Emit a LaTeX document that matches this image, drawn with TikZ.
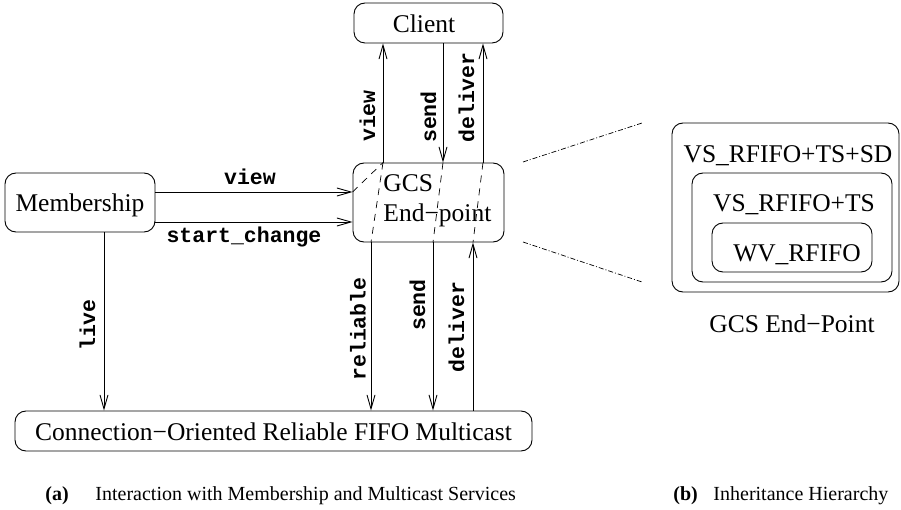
\documentclass[tikz,border=0pt]{standalone}
\usepackage{fontspec}
\setmainfont{Liberation Serif}
\setmonofont{Liberation Mono}
\usetikzlibrary{arrows.meta}
\begin{document}
\begin{tikzpicture}[x=1pt,y=-1pt, line width=0.9pt,
 box/.style={draw, rounded corners=11pt, inner sep=0pt},
 lbl/.style={font=\fontsize{21.5}{24}\selectfont\ttfamily\bfseries, inner sep=0pt},
 vlbl/.style={lbl, rotate=90},
 txt/.style={font=\fontsize{25.5}{28}\selectfont, inner sep=0pt, anchor=base},
 captxt/.style={font=\fontsize{20}{24}\selectfont, inner sep=0pt, anchor=base west},
 capbold/.style={captxt, font=\fontsize{20}{24}\selectfont\bfseries},
 arr/.style={-{Straight Barb[length=14pt,width=8pt]}},
 dsh/.style={dash pattern=on 7pt off 6pt, line width=0.7pt},
 dd/.style={dash pattern=on 5pt off 2pt on 1pt off 2pt, line width=0.7pt}]
\useasboundingbox (0,0) rectangle (901,510);

% boxes
\node[box, minimum width=149pt, minimum height=40pt] (client) at (428.5,23) {};
\node[box, minimum width=151pt, minimum height=79pt] (gcs) at (428.5,202.5) {};
\node[box, minimum width=150pt, minimum height=59pt] (mem) at (80,202.5) {};
\node[box, minimum width=517pt, minimum height=40pt] (mc) at (273.5,431) {};
\node[box, minimum width=227pt, minimum height=169pt] (outer) at (785.5,207.5) {};
\node[box, minimum width=200pt, minimum height=109pt] (middle) at (792,227.5) {};
\node[box, minimum width=160pt, minimum height=49pt] (inner) at (792,247.5) {};

% box texts
\node[txt] (tclient) at (424,33) {Client};
\node[txt, anchor=base west] (tgcs1) at (383,192) {GCS};
\node[txt, anchor=base west] (tgcs2) at (383,222) {End−point};
\node[txt] (tmem) at (80,212) {Membership};
\node[txt] (tmc) at (273.5,440) {Connection−Oriented Reliable FIFO Multicast};
\node[txt] (touter) at (788,163) {VS\_RFIFO+TS+SD};
\node[txt] (tmiddle) at (794,212) {VS\_RFIFO+TS};
\node[txt] (tinner) at (797,262) {WV\_RFIFO};
\node[txt] (tep) at (792,332) {GCS End−Point};

% x positions of vertical connectors
\coordinate (xv) at (383,0);
\coordinate (xs) at (443,0);
\coordinate (xd) at (483,0);
\coordinate (xr) at (371,0);
\coordinate (xs2) at (433,0);
\coordinate (xd2) at (473,0);
\coordinate (xl) at (104,0);
\coordinate (yv) at (0,192);
\coordinate (yc) at (0,222);

% connectors
\draw[arr] (gcs.north -| xv) -- (client.south -| xv);
\draw[arr] (client.south -| xs) -- (gcs.north -| xs);
\draw[arr] (gcs.north -| xd) -- (client.south -| xd);
\draw[arr] (mem.east |- yv) -- (gcs.west |- yv);
\draw[arr] (mem.east |- yc) -- (gcs.west |- yc);
\draw[arr] (mem.south -| xl) -- (mc.north -| xl);
\draw[arr] (gcs.south -| xr) -- (mc.north -| xr);
\draw[arr] (gcs.south -| xs2) -- (mc.north -| xs2);
\draw[arr] (mc.north -| xd2) -- (gcs.south -| xd2);

% dashed paths inside the end-point
\draw[dsh] (gcs.west |- yv) -- (gcs.north -| xv);
\draw[dsh] (gcs.north -| xv) -- (gcs.south -| xr);
\draw[dsh] (gcs.north -| xs) -- (gcs.south -| xs2);
\draw[dsh] (gcs.north -| xd) -- (gcs.south -| xd2);

% labels
\node[lbl] (lview) at (250,177) {view};
\node[lbl] (lsc) at (244,237) {start\_change};
\node[vlbl] (ltv) at (367.5,116) {view};
\node[vlbl] (lts) at (428.5,117) {send};
\node[vlbl] (ltd) at (466.5,97.5) {deliver};
\node[vlbl] (lbr) at (358,329) {reliable};
\node[vlbl] (lbs) at (417.5,305) {send};
\node[vlbl] (lbd) at (456.5,327) {deliver};
\node[vlbl] (llive) at (87.5,325) {live};

% zoom lines
\coordinate (z1a) at (523,162);
\coordinate (z1b) at (642,123);
\coordinate (z2a) at (523,242);
\coordinate (z2b) at (642,282);
\draw[dd] (z1a) -- (z1b);
\draw[dd] (z2a) -- (z2b);

% captions
\node[capbold] (capa) at (45,500) {(a)};
\node[captxt] (capat) at (95,500) {Interaction with Membership and Multicast Services};
\node[capbold] (capb) at (673,500) {(b)};
\node[captxt] (capbt) at (713,500) {Inheritance Hierarchy};
\end{tikzpicture}
\end{document}
